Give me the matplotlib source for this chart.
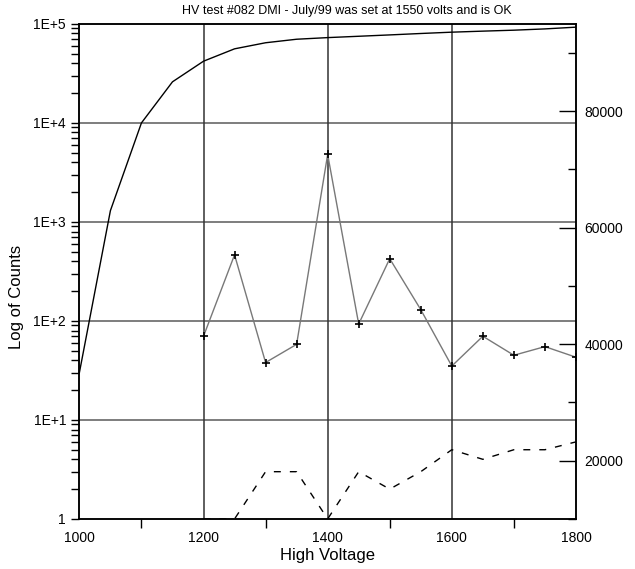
import numpy as np
import matplotlib
matplotlib.use('Agg')
import matplotlib.pyplot as plt
from matplotlib.ticker import FixedLocator, LogLocator, NullFormatter, MultipleLocator

plt.rcParams['font.family'] = ['Liberation Sans', 'DejaVu Sans']

# Tension (V)
hv = [1000, 1050, 1100, 1150, 1200, 1250, 1300, 1350, 1400, 1450,
      1500, 1550, 1600, 1650, 1700, 1750, 1800]
# courbe pleine (comptages)
counts_total = [30, 1300, 1.0e4, 2.6e4, 4.2e4, 5.6e4, 6.45e4, 7.0e4, 7.27e4, 7.5e4,
                7.74e4, 8.0e4, 8.25e4, 8.45e4, 8.64e4, 8.9e4, 9.27e4]
# série avec marqueurs +
hv_b = [1200, 1250, 1300, 1350, 1400, 1450, 1500, 1550, 1600, 1650, 1700, 1750, 1800]
counts_b = [70, 465, 38, 58, 4800, 93, 425, 130, 35, 70, 45, 55, 43]
# série en tirets
counts_c = [1, 1, 3, 3, 1, 3, 2, 3, 5, 4, 5, 5, 6]

left_ticks = [1, 10, 100, 1000, 10000, 100000]
left_labels = ['1', '1E+1', '1E+2', '1E+3', '1E+4', '1E+5']
right_ticks = [20000, 40000, 60000, 80000]

fig = plt.figure(figsize=(6.35, 5.69), dpi=100)
ax = fig.add_axes([0.125, 0.088, 0.782, 0.870])

# grille
for y in left_ticks[1:-1]:
    ax.axhline(y, color='#5a5a5a', lw=1.1, zorder=1)
for x in [1200, 1400, 1600]:
    ax.axvline(x, color='#333333', lw=1.1, zorder=1)

ax.plot(hv, counts_total, color='black', lw=1.0, zorder=3)
ax.plot(hv_b, counts_b, color='#787878', lw=1.0, zorder=3)
ax.plot(hv_b, counts_b, ls='none', marker='+', color='black', ms=6, mew=1.2, zorder=4)
ax.plot(hv_b, counts_c, color='black', lw=1.0, ls=(0, (5, 6.5)), zorder=3)

ax.set_yscale('log')
ax.set_ylim(1, 1e5)
ax.set_xlim(1000, 1800)
ax.yaxis.set_major_locator(FixedLocator(left_ticks))
ax.set_yticklabels(left_labels)
ax.yaxis.set_minor_locator(LogLocator(base=10, subs=np.arange(2, 10)))
ax.yaxis.set_minor_formatter(NullFormatter())
ax.xaxis.set_major_locator(FixedLocator([1000, 1200, 1400, 1600, 1800]))
ax.xaxis.set_minor_locator(FixedLocator([1100, 1300, 1500, 1700]))

ax.tick_params(axis='y', which='major', direction='out', length=6, width=1, pad=3.6, labelsize=10)
ax.tick_params(axis='y', which='minor', direction='out', length=5.5, width=1)
ax.tick_params(axis='x', which='major', length=0, pad=9, labelsize=10)
ax.tick_params(axis='x', which='minor', direction='out', length=6.2, width=1)

for s in ax.spines.values():
    s.set_linewidth(1.1)

# axe de droite
ax2 = ax.twinx()
ax2.set_ylim(10000, 95000)
ax2.yaxis.set_major_locator(FixedLocator(right_ticks))
ax2.yaxis.set_minor_locator(MultipleLocator(10000))
ax2.tick_params(axis='y', which='major', direction='in', length=12, width=1, pad=6, labelsize=10)
ax2.tick_params(axis='y', which='minor', direction='in', length=5.8, width=1)
for s in ax2.spines.values():
    s.set_linewidth(1.1)

fig.text(0.546, 0.981, 'HV test #082 DMI - July/99 was set at 1550 volts and is OK',
         ha='center', va='center', fontsize=9)
ax.set_xlabel('High Voltage', fontsize=12, labelpad=2)
fig.text(17 / 635, 1 - 297 / 569, 'Log of Counts', rotation=90,
         ha='center', va='center', fontsize=12)

fig.savefig('out.png', dpi=100)
